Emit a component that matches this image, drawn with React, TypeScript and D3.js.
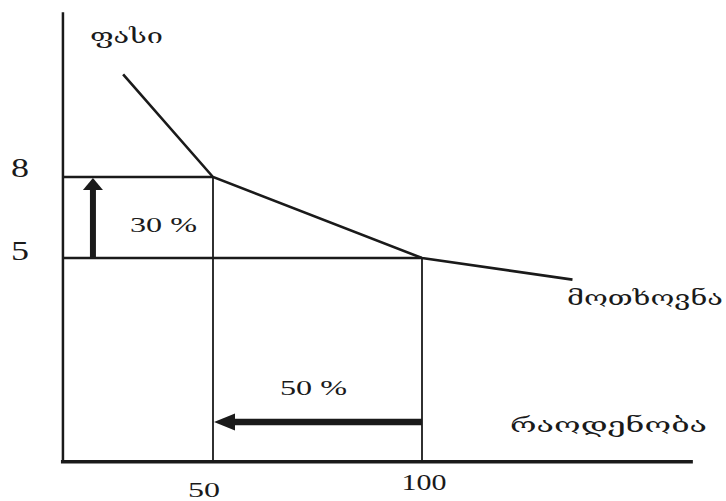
import React from "react";
import * as d3 from "d3";

// Demand curve points (quantity, price)
const demandQ = [28.5, 50, 100, 136];
const demandP = [11.8, 8, 5, 4.2];
// Tick labels
const priceTicks = [8, 5];
const qtyTicks = [50, 100];
// Axis extents in data units
const qAxisRange = [14.1, 164.8];
const pAxisRange = [-2.55, 14.1];
// Labels
const priceLabel = "ფასი";
const demandLabel = "მოთხოვნა";
const qtyLabel = "რაოდენობა";
const priceChange = "30 %";
const qtyChange = "50 %";

const W = 726;
const H = 501;

export default function App() {
  const x = d3.scaleLinear().domain([50, 100]).range([213, 422]);
  const y = d3.scaleLinear().domain([5, 8]).range([258, 177]);
  const pts = demandQ.map((q, i) => [x(q), y(demandP[i])] as [number, number]);
  const line = d3.line();

  const x0 = x(qAxisRange[0]);
  const x1 = x(qAxisRange[1]);
  const y0 = y(pAxisRange[0]);
  const yTop = y(pAxisRange[1]);

  const pHigh = y(priceTicks[0]);
  const pLow = y(priceTicks[1]);
  const qLow = x(qtyTicks[0]);
  const qHigh = x(qtyTicks[1]);

  // vertical arrow (price up)
  const ax = x0 + 30;
  const hArrowY = 422;

  const serif = "'Liberation Serif', 'Times New Roman', serif";
  const geo = "'DejaVu Serif', 'DejaVu Sans', serif";

  return (
    <svg
      width={W}
      height={H}
      style={{ position: "absolute", left: 0, top: 0, background: "#fff" }}
    >
      {/* axes */}
      <line x1={x0} y1={yTop} x2={x0} y2={y0} stroke="#1a1a1a" strokeWidth={2.5} />
      <line x1={x0 - 2} y1={y0} x2={x1} y2={y0} stroke="#1a1a1a" strokeWidth={3.5} />

      {/* guide lines */}
      <line x1={x0} y1={pHigh} x2={qLow} y2={pHigh} stroke="#1a1a1a" strokeWidth={2.5} />
      <line x1={x0} y1={pLow} x2={qHigh} y2={pLow} stroke="#1a1a1a" strokeWidth={2.5} />
      <line x1={qLow} y1={pHigh} x2={qLow} y2={y0} stroke="#1a1a1a" strokeWidth={1.8} />
      <line x1={qHigh} y1={pLow} x2={qHigh} y2={y0} stroke="#1a1a1a" strokeWidth={1.8} />

      {/* demand curve */}
      <path d={line(pts) || ""} fill="none" stroke="#1a1a1a" strokeWidth={2.6} />

      {/* vertical arrow */}
      <line x1={ax} y1={pLow} x2={ax} y2={pHigh + 12} stroke="#1a1a1a" strokeWidth={6} />
      <polygon
        points={`${ax},${pHigh + 1} ${ax - 10},${pHigh + 13} ${ax + 10},${pHigh + 13}`}
        fill="#1a1a1a"
      />

      {/* horizontal arrow */}
      <line x1={qHigh} y1={hArrowY} x2={qLow + 20} y2={hArrowY} stroke="#1a1a1a" strokeWidth={6.5} />
      <polygon
        points={`${qLow + 1},${hArrowY} ${qLow + 22},${hArrowY - 8.5} ${qLow + 22},${hArrowY + 8.5}`}
        fill="#1a1a1a"
      />

      {/* tick labels */}
      <text x={20} y={pHigh} fontFamily={serif} fontSize={27} textAnchor="middle" textLength={18} lengthAdjust="spacingAndGlyphs" fill="#1a1a1a">
        {priceTicks[0]}
      </text>
      <text x={20} y={pLow + 2} fontFamily={serif} fontSize={27} textAnchor="middle" textLength={18} lengthAdjust="spacingAndGlyphs" fill="#1a1a1a">
        {priceTicks[1]}
      </text>
      <text x={qLow - 9} y={497} fontFamily={serif} fontSize={22} textAnchor="middle" textLength={32} lengthAdjust="spacingAndGlyphs" fill="#1a1a1a">
        {qtyTicks[0]}
      </text>
      <text x={qHigh + 2} y={490} fontFamily={serif} fontSize={23} textAnchor="middle" textLength={45} lengthAdjust="spacingAndGlyphs" fill="#1a1a1a">
        {qtyTicks[1]}
      </text>

      {/* percent labels */}
      <text x={130} y={232} fontFamily={serif} fontSize={22} textLength={67} lengthAdjust="spacingAndGlyphs" fill="#1a1a1a">
        {priceChange}
      </text>
      <text x={280} y={395} fontFamily={serif} fontSize={22} textLength={67} lengthAdjust="spacingAndGlyphs" fill="#1a1a1a">
        {qtyChange}
      </text>

      {/* axis / curve labels */}
      <text x={90} y={43} fontFamily={geo} fontSize={20} textLength={73} lengthAdjust="spacingAndGlyphs" fill="#1a1a1a">
        {priceLabel}
      </text>
      <text x={567} y={305} fontFamily={geo} fontSize={20} textLength={156} lengthAdjust="spacingAndGlyphs" fill="#1a1a1a">
        {demandLabel}
      </text>
      <text x={510} y={432} fontFamily={geo} fontSize={20} textLength={197} lengthAdjust="spacingAndGlyphs" fill="#1a1a1a">
        {qtyLabel}
      </text>
    </svg>
  );
}
